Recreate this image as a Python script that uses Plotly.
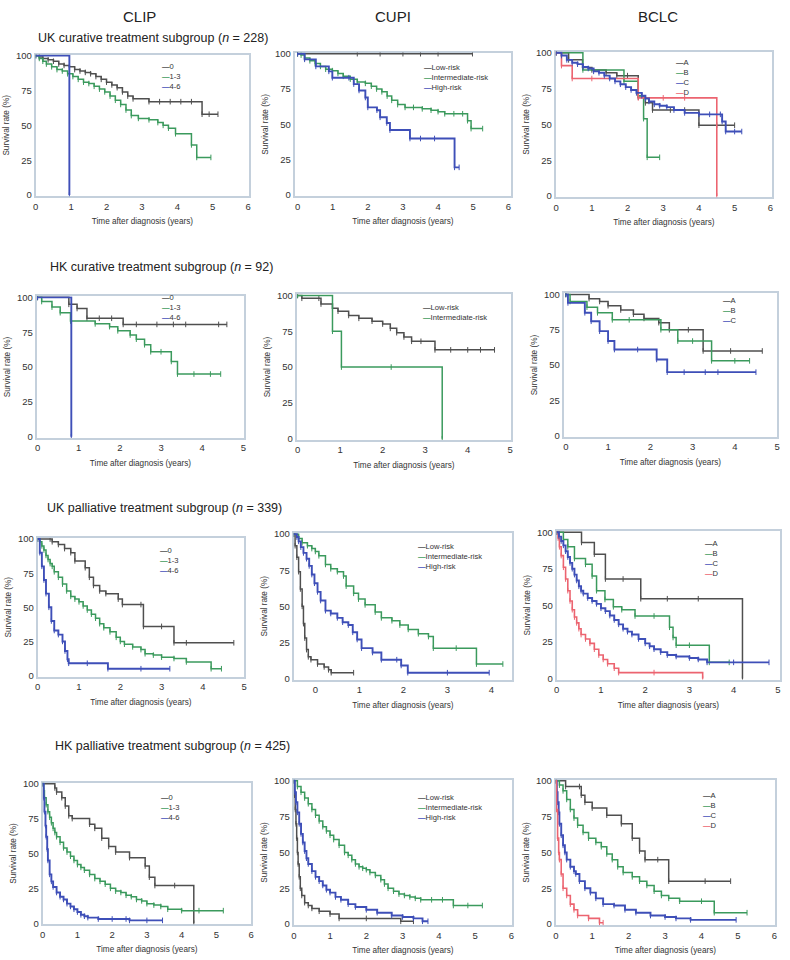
import plotly.graph_objects as go

W, H = 790, 960
FONT = "Liberation Sans, Arial, Helvetica, sans-serif"

# ---------------- text ----------------
col_titles = ["CLIP", "CUPI", "BCLC"]
row_titles = [
    "UK curative treatment subgroup (<i>n</i> = 228)",
    "HK curative treatment subgroup (<i>n</i> = 92)",
    "UK palliative treatment subgroup (<i>n</i> = 339)",
    "HK palliative treatment subgroup (<i>n</i> = 425)",
]
x_title = "Time after diagnosis (years)"
y_title = "Survival rate (%)"
y_ticks = [0, 25, 50, 75, 100]
x_ticks6 = [0, 1, 2, 3, 4, 5, 6]
x_ticks5 = [0, 1, 2, 3, 4, 5]
x_ticks4 = [0, 1, 2, 3, 4]
clip_labels = ["0", "1-3", "4-6"]
cupi_labels = ["Low-risk", "Intermediate-risk", "High-risk"]
bclc_labels = ["A", "B", "C", "D"]

# ---------------- data: (time in years, survival %) ----------------
# UK curative - CLIP
ukc_clip_0_t = [0, 0.1, 0.2, 0.35, 0.5, 0.65, 0.8, 0.95, 1.1, 1.25, 1.4, 1.55, 1.7, 1.85, 2.0, 2.15, 2.3, 2.45, 2.6, 2.75, 3.2, 3.5, 3.8, 4.1, 4.4, 4.7, 4.9, 5.15]
ukc_clip_0_s = [100, 99, 98, 97, 96, 94, 93, 92, 90, 89, 88, 87, 85, 83, 81, 79, 77, 74, 71, 69, 67, 67, 67, 67, 67, 58, 58, 58]
ukc_clip_13_t = [0, 0.1, 0.2, 0.3, 0.45, 0.6, 0.75, 0.9, 1.05, 1.2, 1.35, 1.5, 1.65, 1.8, 1.95, 2.1, 2.25, 2.4, 2.55, 2.7, 2.9, 3.2, 3.45, 3.6, 3.75, 3.95, 4.4, 4.55, 4.95]
ukc_clip_13_s = [100, 98, 96, 94, 92, 90, 89, 87, 85, 83, 81, 80, 78, 76, 74, 71, 68, 65, 61, 57, 55, 54, 52, 50, 48, 44, 36, 27, 27]
ukc_clip_46_t = [0, 0.95]
ukc_clip_46_s = [100, 0]
# UK curative - CUPI
ukc_cupi_low_t = [0, 1.7, 2.35, 3.0, 3.5, 4.0, 4.98]
ukc_cupi_low_s = [100, 100, 100, 100, 100, 100, 100]
ukc_cupi_int_t = [0, 0.1, 0.2, 0.35, 0.5, 0.65, 0.8, 0.99, 1.15, 1.3, 1.5, 1.7, 1.93, 2.1, 2.25, 2.4, 2.55, 2.68, 2.85, 3.06, 3.3, 3.55, 3.8, 4.0, 4.19, 4.45, 4.7, 4.84, 4.94, 5.27]
ukc_cupi_int_s = [100, 99, 97, 95, 93, 91, 89, 88, 86, 84, 82, 80, 79, 77, 75, 73, 70, 67, 64, 62, 62, 61, 60, 59, 57.5, 57.5, 57.5, 52.6, 47, 47]
ukc_cupi_high_t = [0, 0.2, 0.52, 0.89, 0.99, 1.46, 1.6, 1.75, 1.93, 2.0, 2.26, 2.35, 2.54, 2.63, 3.2, 3.5, 3.9, 4.47, 4.6]
ukc_cupi_high_s = [100, 96, 91, 87.5, 83, 83, 78.5, 74, 69, 62, 60, 55, 51, 46, 40, 40, 40, 19.6, 19.6]
# UK curative - BCLC
ukc_bclc_a_t = [0, 0.35, 0.74, 1.0, 1.4, 1.7, 2.0, 2.3, 2.5, 2.7, 3.2, 3.6, 4.0, 4.5, 5.0]
ukc_bclc_a_s = [100, 95, 89.6, 88, 86, 84, 84, 69, 65, 60, 60, 60, 49.4, 49.4, 49.4]
ukc_bclc_b_t = [0, 0.75, 1.9, 2.3, 2.45, 2.55, 2.9]
ukc_bclc_b_s = [100, 88, 80, 70, 54, 27, 27]
ukc_bclc_c_t = [0, 0.15, 0.3, 0.45, 0.6, 0.75, 0.9, 1.05, 1.2, 1.35, 1.5, 1.65, 1.8, 1.95, 2.1, 2.25, 2.4, 2.5, 2.6, 2.75, 2.9, 3.1, 3.3, 3.6, 4.0, 4.3, 4.6, 4.65, 4.75, 5.0, 5.2]
ukc_bclc_c_s = [100, 98, 95, 93, 92, 90, 89, 87, 86, 84, 82, 80, 78, 76, 74, 72, 70, 68, 66, 64, 63, 62, 60, 58, 57, 57, 57, 52, 45, 45, 45]
ukc_bclc_d_t = [0, 0.15, 0.45, 1.0, 2.3, 3.0, 3.6, 4.5]
ukc_bclc_d_s = [100, 91, 82, 82, 68.5, 68.5, 68.5, 0]
# HK curative - CLIP
hkc_clip_0_t = [0, 0.76, 0.96, 1.2, 1.5, 1.8, 2.08, 2.4, 2.9, 3.3, 3.6, 4.4, 4.6]
hkc_clip_0_s = [100, 95, 92, 85, 85, 85, 80.6, 80.6, 80.6, 80.6, 80.6, 80.6, 80.6]
hkc_clip_13_t = [0, 0.1, 0.35, 0.55, 0.8, 1.4, 1.75, 1.95, 2.25, 2.4, 2.6, 2.75, 3.0, 3.25, 3.4, 3.8, 4.2, 4.45]
hkc_clip_13_s = [100, 97, 93, 89, 83, 81, 79, 76, 73, 70, 66, 61, 61, 54, 45, 45, 45, 45]
hkc_clip_46_t = [0, 0.82]
hkc_clip_46_s = [100, 0]
# HK curative - CUPI
hkc_cupi_low_t = [0, 0.1, 0.5, 0.55, 0.82, 0.95, 1.2, 1.44, 1.75, 2.0, 2.18, 2.33, 2.5, 2.68, 2.9, 3.23, 3.6, 4.0, 4.3, 4.63]
hkc_cupi_low_s = [100, 98, 98, 94, 91, 89, 86, 84, 82, 80, 77, 74, 71, 68, 68, 62, 62, 62, 62, 62]
hkc_cupi_int_t = [0, 0.82, 1.03, 2.2, 3.4]
hkc_cupi_int_s = [100, 75, 50, 50, 0]
# HK curative - BCLC
hkc_bclc_a_t = [0, 0.55, 0.8, 1.0, 1.3, 1.6, 1.85, 2.2, 2.45, 2.9, 3.25, 3.9, 4.65]
hkc_bclc_a_s = [100, 97, 95, 92, 89, 86, 83, 80, 75, 75, 60, 60, 60]
hkc_bclc_b_t = [0, 0.1, 0.5, 0.75, 1.1, 1.5, 2.25, 2.65, 3.0, 3.45, 4.0, 4.35]
hkc_bclc_b_s = [100, 95, 91, 87, 82, 82, 75, 67, 67, 53, 53, 53]
hkc_bclc_c_t = [0, 0.05, 0.45, 0.6, 0.8, 1.0, 1.15, 1.7, 2.15, 2.4, 2.8, 3.3, 3.6, 4.5]
hkc_bclc_c_s = [100, 94, 87, 81, 74, 67, 61, 61, 54, 45, 45, 45, 45, 45]
# UK palliative - CLIP
ukp_clip_0_t = [0, 0.3, 0.35, 0.5, 0.65, 0.8, 0.9, 1.15, 1.25, 1.35, 1.5, 1.65, 1.95, 2.05, 2.5, 2.56, 3.0, 3.3, 3.6, 4.75]
ukp_clip_0_s = [100, 100, 98, 96, 93, 90, 84, 79, 72, 66, 62, 60, 56, 52, 52, 36, 36, 24, 24, 24]
ukp_clip_13_t = [0, 0.05, 0.1, 0.15, 0.2, 0.25, 0.3, 0.35, 0.4, 0.5, 0.6, 0.7, 0.8, 0.9, 1.0, 1.1, 1.2, 1.3, 1.4, 1.5, 1.6, 1.75, 1.9, 2.0, 2.1, 2.3, 2.5, 2.6, 2.8, 3.0, 3.3, 3.6, 4.2, 4.45]
ukp_clip_13_s = [100, 98, 95, 92, 88, 85, 82, 80, 76, 72, 67, 62, 58, 56, 54, 51, 48, 45, 42, 38, 35, 32, 28, 25, 23, 21, 19, 16, 15, 13.5, 12.5, 10, 5, 5]
ukp_clip_46_t = [0, 0.05, 0.1, 0.15, 0.2, 0.27, 0.33, 0.4, 0.5, 0.6, 0.66, 0.72, 0.75, 1.2, 1.7, 2.5, 3.2]
ukp_clip_46_s = [100, 90, 80, 70, 60, 50, 40, 33, 30, 25, 18, 12, 9, 9, 5, 5, 5]
# UK palliative - CUPI (times as read against the printed axis)
ukp_cupi_low_t = [-0.49, -0.46, -0.42, -0.38, -0.34, -0.30, -0.27, -0.24, -0.20, -0.16, -0.10, 0.05, 0.20, 0.30, 0.36, 0.87]
ukp_cupi_low_s = [100, 92, 84, 74, 62, 50, 38, 28, 20, 15, 13, 10, 8, 6, 4, 4]
ukp_cupi_int_t = [-0.49, -0.38, -0.3, -0.18, -0.08, 0.0, 0.08, 0.23, 0.35, 0.5, 0.64, 0.7, 0.87, 0.98, 1.13, 1.36, 1.5, 1.74, 1.92, 2.11, 2.34, 2.57, 2.68, 3.2, 3.66, 4.26]
ukp_cupi_int_s = [100, 97, 94, 92, 90, 88, 85, 79, 76, 74, 71, 64, 59, 55, 51, 46, 42, 40, 37, 34, 31, 29, 21, 21, 10, 10]
ukp_cupi_high_t = [-0.49, -0.42, -0.38, -0.33, -0.27, -0.2, -0.14, -0.08, -0.02, 0.05, 0.12, 0.23, 0.35, 0.5, 0.62, 0.75, 0.85, 0.95, 1.05, 1.3, 1.5, 1.85, 1.95, 2.1, 3.0, 3.95]
ukp_cupi_high_s = [100, 98, 95, 91, 87, 83, 78, 72, 66, 60, 54, 47, 45, 42, 39, 37, 32, 27, 21, 18, 13, 13, 9, 4, 4, 4]
# UK palliative - BCLC
ukp_bclc_a_t = [0, 0.56, 0.85, 1.1, 1.5, 1.9, 2.5, 3.2, 4.2]
ukp_bclc_a_s = [100, 93, 85, 68, 68, 54.5, 54.5, 54.5, 0]
ukp_bclc_b_t = [0, 0.15, 0.25, 0.4, 0.65, 0.8, 0.9, 1.09, 1.28, 1.47, 1.77, 2.2, 2.55, 2.63, 2.7, 3.0, 3.45, 3.9]
ukp_bclc_b_s = [100, 95, 90, 82, 78, 70, 60, 54, 49, 47, 42.7, 42.7, 35, 28, 22.7, 22.7, 11, 11]
ukp_bclc_c_t = [0, 0.05, 0.1, 0.15, 0.2, 0.25, 0.3, 0.35, 0.4, 0.45, 0.5, 0.55, 0.6, 0.7, 0.8, 0.9, 1.0, 1.1, 1.2, 1.3, 1.4, 1.5, 1.6, 1.7, 1.85, 2.0, 2.1, 2.2, 2.35, 2.5, 2.7, 3.0, 3.2, 3.4, 4.0, 4.8]
ukp_bclc_c_s = [100, 97, 94, 91, 87, 83, 79, 75, 71, 67, 63, 60, 58, 55, 53, 51, 48, 46, 43, 40, 37, 34, 32, 30, 27, 24, 22, 20, 18, 16, 15, 14, 13, 11, 11, 11]
ukp_bclc_d_t = [0, 0.03, 0.06, 0.1, 0.15, 0.2, 0.25, 0.3, 0.35, 0.4, 0.45, 0.5, 0.55, 0.65, 0.75, 0.85, 0.95, 1.05, 1.15, 1.3, 1.4, 2.2, 3.3]
ukp_bclc_d_s = [100, 96, 90, 84, 76, 68, 60, 53, 47, 42, 38, 34, 30, 27, 24, 20, 16, 13, 10, 7, 4, 4, 0]
# HK palliative - CLIP
hkp_clip_0_t = [0, 0.35, 0.4, 0.55, 0.65, 0.75, 0.85, 1.35, 1.5, 1.7, 1.9, 2.1, 2.5, 2.95, 3.07, 3.23, 3.8, 4.35]
hkp_clip_0_s = [100, 97, 94, 90, 84, 77, 75, 71, 68, 61, 55, 51, 47, 41, 33, 27, 27, 0]
hkp_clip_13_t = [0, 0.03, 0.05, 0.1, 0.15, 0.2, 0.25, 0.3, 0.35, 0.4, 0.5, 0.6, 0.7, 0.8, 0.9, 1.0, 1.1, 1.2, 1.35, 1.5, 1.65, 1.8, 1.95, 2.1, 2.25, 2.4, 2.55, 2.7, 2.85, 3.0, 3.2, 3.4, 3.6, 4.0, 4.5, 5.2]
hkp_clip_13_s = [100, 95, 90, 85, 80, 76, 72, 68, 65, 62, 58, 54, 51, 48, 45, 42, 40, 38, 35, 32, 30, 28, 25, 23, 22, 20, 19, 17, 16, 14, 13, 12, 10, 9, 9, 9]
hkp_clip_46_t = [0, 0.03, 0.05, 0.08, 0.1, 0.13, 0.15, 0.2, 0.25, 0.3, 0.4, 0.5, 0.6, 0.7, 0.8, 0.9, 1.0, 1.1, 1.2, 1.3, 1.6, 2.0, 2.4, 2.5, 3.0, 3.45]
hkp_clip_46_s = [100, 90, 80, 70, 62, 53, 45, 35, 30, 26, 22, 19, 17, 14, 12, 10, 8, 6, 5, 4, 3, 3, 3, 2, 2, 2]
# HK palliative - CUPI
hkp_cupi_low_t = [0, 0.02, 0.04, 0.06, 0.08, 0.1, 0.12, 0.15, 0.18, 0.22, 0.3, 0.4, 0.5, 0.7, 1.0, 1.25, 2.0, 2.95, 3.3]
hkp_cupi_low_s = [100, 90, 80, 70, 60, 50, 42, 33, 25, 20, 15, 13, 11, 9, 7, 4, 4, 2, 2]
hkp_cupi_int_t = [0, 0.1, 0.2, 0.3, 0.4, 0.5, 0.6, 0.7, 0.8, 0.9, 1.0, 1.1, 1.25, 1.4, 1.5, 1.6, 1.7, 1.8, 1.9, 2.0, 2.1, 2.25, 2.4, 2.5, 2.6, 2.75, 2.9, 3.05, 3.2, 3.35, 3.5, 3.8, 4.1, 4.4, 4.8, 5.2]
hkp_cupi_int_s = [100, 96, 92, 88, 84, 80, 76, 72, 68, 65, 62, 59, 55, 50, 48, 45, 42, 40, 39, 38, 36, 34, 31, 28, 25, 23, 21, 20, 19, 18, 17, 17, 17, 13, 13, 13]
hkp_cupi_high_t = [0, 0.03, 0.06, 0.1, 0.15, 0.2, 0.25, 0.3, 0.35, 0.4, 0.5, 0.6, 0.7, 0.8, 0.9, 1.0, 1.15, 1.3, 1.5, 1.7, 2.0, 2.3, 2.7, 3.0, 3.3, 3.55, 3.7]
hkp_cupi_high_s = [100, 92, 85, 78, 70, 63, 57, 51, 46, 42, 37, 33, 30, 27, 24, 22, 19, 17, 14, 12, 10, 8, 6, 5, 4, 2, 2]
# HK palliative - BCLC
hkp_bclc_a_t = [0, 0.27, 0.65, 0.7, 0.8, 1.0, 1.4, 1.8, 2.1, 2.3, 2.45, 2.8, 3.1, 4.1, 4.8]
hkp_bclc_a_s = [100, 96, 96, 90, 85, 81, 76, 70, 60, 51, 45, 45, 30, 30, 30]
hkp_bclc_b_t = [0, 0.1, 0.2, 0.3, 0.4, 0.5, 0.6, 0.75, 0.9, 1.1, 1.25, 1.4, 1.55, 1.7, 1.85, 2.1, 2.3, 2.5, 2.7, 2.9, 3.1, 3.4, 4.0, 4.35, 5.25]
hkp_bclc_b_s = [100, 97, 93, 87, 80, 74, 69, 64, 60, 57, 54, 49, 45, 40, 36, 33, 30, 27, 23, 20, 18, 16, 16, 8, 8]
hkp_bclc_c_t = [0, 0.03, 0.05, 0.08, 0.1, 0.15, 0.2, 0.25, 0.3, 0.4, 0.5, 0.55, 0.65, 0.8, 0.95, 1.1, 1.3, 1.6, 1.9, 2.2, 2.6, 3.0, 3.3, 3.7, 4.95]
hkp_bclc_c_s = [100, 92, 85, 78, 70, 62, 55, 50, 45, 40, 37, 35, 30, 25, 22, 18, 14, 13, 10, 8, 6, 5, 4, 3, 3]
hkp_bclc_d_t = [0, 0.02, 0.05, 0.08, 0.1, 0.15, 0.2, 0.3, 0.4, 0.5, 0.6, 0.9, 1.2, 1.3]
hkp_bclc_d_s = [100, 80, 60, 50, 45, 35, 25, 20, 14, 10, 6, 4, 1, 1]

# ---------------- styles ----------------
GRAY, GREEN, BLUE, RED = "#4f4f4f", "#3b9a5d", "#3e4fb8", "#ec6470"
MARK = {GRAY: "#111111", GREEN: "#1f7a42", BLUE: "#26358f", RED: "#d84a57"}
LW = {GRAY: 1.5, GREEN: 1.5, BLUE: 1.9, RED: 1.6}
BOX = "#c4d0dc"

panels = [
    [(ukc_clip_0_t, ukc_clip_0_s, GRAY), (ukc_clip_13_t, ukc_clip_13_s, GREEN), (ukc_clip_46_t, ukc_clip_46_s, BLUE)],
    [(ukc_cupi_low_t, ukc_cupi_low_s, GRAY), (ukc_cupi_int_t, ukc_cupi_int_s, GREEN), (ukc_cupi_high_t, ukc_cupi_high_s, BLUE)],
    [(ukc_bclc_a_t, ukc_bclc_a_s, GRAY), (ukc_bclc_b_t, ukc_bclc_b_s, GREEN), (ukc_bclc_d_t, ukc_bclc_d_s, RED), (ukc_bclc_c_t, ukc_bclc_c_s, BLUE)],
    [(hkc_clip_0_t, hkc_clip_0_s, GRAY), (hkc_clip_13_t, hkc_clip_13_s, GREEN), (hkc_clip_46_t, hkc_clip_46_s, BLUE)],
    [(hkc_cupi_low_t, hkc_cupi_low_s, GRAY), (hkc_cupi_int_t, hkc_cupi_int_s, GREEN)],
    [(hkc_bclc_a_t, hkc_bclc_a_s, GRAY), (hkc_bclc_b_t, hkc_bclc_b_s, GREEN), (hkc_bclc_c_t, hkc_bclc_c_s, BLUE)],
    [(ukp_clip_0_t, ukp_clip_0_s, GRAY), (ukp_clip_13_t, ukp_clip_13_s, GREEN), (ukp_clip_46_t, ukp_clip_46_s, BLUE)],
    [(ukp_cupi_low_t, ukp_cupi_low_s, GRAY), (ukp_cupi_int_t, ukp_cupi_int_s, GREEN), (ukp_cupi_high_t, ukp_cupi_high_s, BLUE)],
    [(ukp_bclc_a_t, ukp_bclc_a_s, GRAY), (ukp_bclc_b_t, ukp_bclc_b_s, GREEN), (ukp_bclc_d_t, ukp_bclc_d_s, RED), (ukp_bclc_c_t, ukp_bclc_c_s, BLUE)],
    [(hkp_clip_0_t, hkp_clip_0_s, GRAY), (hkp_clip_13_t, hkp_clip_13_s, GREEN), (hkp_clip_46_t, hkp_clip_46_s, BLUE)],
    [(hkp_cupi_low_t, hkp_cupi_low_s, GRAY), (hkp_cupi_int_t, hkp_cupi_int_s, GREEN), (hkp_cupi_high_t, hkp_cupi_high_s, BLUE)],
    [(hkp_bclc_a_t, hkp_bclc_a_s, GRAY), (hkp_bclc_b_t, hkp_bclc_b_s, GREEN), (hkp_bclc_c_t, hkp_bclc_c_s, BLUE), (hkp_bclc_d_t, hkp_bclc_d_s, RED)],
]

legends = [
    (clip_labels, [GRAY, GREEN, BLUE]),
    (cupi_labels, [GRAY, GREEN, BLUE]),
    (bclc_labels, [GRAY, GREEN, BLUE, RED]),
    (clip_labels, [GRAY, GREEN, BLUE]),
    (cupi_labels[:2], [GRAY, GREEN]),
    (bclc_labels[:3], [GRAY, GREEN, BLUE]),
    (clip_labels, [GRAY, GREEN, BLUE]),
    (cupi_labels, [GRAY, GREEN, BLUE]),
    (bclc_labels, [GRAY, GREEN, BLUE, RED]),
    (clip_labels, [GRAY, GREEN, BLUE]),
    (cupi_labels, [GRAY, GREEN, BLUE]),
    (bclc_labels, [GRAY, GREEN, BLUE, RED]),
]

# ---------------- layout geometry (pixels) ----------------
geom = [
    (33, 248, 50, 193, [0, 6.03], x_ticks6),
    (294, 512, 48, 193, [-0.08, 6.08], x_ticks6),
    (557, 775, 47, 194, [-0.01, 6.05], x_ticks6),
    (34, 243, 294, 437, [-0.02, 5.02], x_ticks5),
    (296, 512, 292, 439, [-0.02, 5.02], x_ticks5),
    (565, 780, 291, 436, [-0.05, 5.0], x_ticks5),
    (35, 243, 538, 678, [0, 5.0], x_ticks5),
    (293, 513, 533, 681, [-0.49, 4.47], x_ticks4),
    (558, 783, 531, 681, [0, 5.05], x_ticks5),
    (40, 250, 785, 928, [0, 6.0], x_ticks6),
    (293, 513, 782, 929, [0, 6.02], x_ticks6),
    (557, 778, 782, 929, [0, 6.02], x_ticks6),
]
# legend: left x, top y (pixels)
legend_pos = [
    (159, 57), (423, 58), (677, 52),
    (159, 290), (422, 300), (724, 293),
    (157, 545), (417, 541), (706, 538),
    (158, 794), (417, 794), (704, 792),
]

fig = go.Figure()
annotations = []
for i, (curves, g, leg, lp) in enumerate(zip(panels, geom, legends, legend_pos), start=1):
    sfx = "" if i == 1 else str(i)
    for t, s, c in curves:
        fig.add_trace(go.Scatter(
            x=t, y=s, xaxis="x" + sfx, yaxis="y" + sfx,
            mode="lines+markers",
            line=dict(shape="hv", color=c, width=LW[c]),
            marker=dict(symbol="line-ns-open", size=4, line=dict(width=1, color=MARK[c])),
            showlegend=False, hoverinfo="skip"))
    L, R, T, B, xr, xt = g
    fig.update_layout(**{
        "xaxis" + sfx: dict(
            domain=[L / W, R / W], range=xr, anchor="y" + sfx,
            tickvals=xt, ticktext=[str(v) for v in xt],
            showline=True, mirror=True, linecolor=BOX, linewidth=2, layer="below traces",
            showgrid=False, zeroline=False, ticks="",
            tickfont=dict(size=9.5, color="#333", family=FONT),
            title=dict(text=x_title, font=dict(size=8.2, color="#333", family=FONT), standoff=8)),
        "yaxis" + sfx: dict(
            domain=[1 - B / H, 1 - T / H], range=[-0.8, 100.8], anchor="x" + sfx,
            tickvals=y_ticks, ticktext=[str(v) for v in y_ticks],
            showline=True, mirror=True, linecolor=BOX, linewidth=2, layer="below traces",
            showgrid=False, zeroline=False, ticks="",
            tickfont=dict(size=9.5, color="#333", family=FONT),
            title=dict(text=y_title, font=dict(size=8.2, color="#333", family=FONT), standoff=5)),
    })
    labels, cols = leg
    lx, ly = lp
    lines = [f'<span style="color:{c}"><b>\u2014</b></span>{lab}' for lab, c in zip(labels, cols)]
    annotations.append(dict(
        x=lx / W, y=1 - ly / H, xref="paper", yref="paper", xanchor="left", yanchor="top",
        text="<br>".join(lines), showarrow=False, align="left", borderpad=0,
        font=dict(size=7.6, color="#333", family=FONT)))

for txt, cx in zip(col_titles, [138, 393, 660]):
    annotations.append(dict(x=cx / W, y=1 - 12 / H, xref="paper", yref="paper", xanchor="center",
                            yanchor="middle", text=txt, showarrow=False,
                            font=dict(size=15, color="#222", family=FONT)))
for txt, (rx, ry) in zip(row_titles, [(33, 33), (45, 264), (42, 508), (50, 748)]):
    annotations.append(dict(x=rx / W, y=1 - ry / H, xref="paper", yref="paper", xanchor="left",
                            yanchor="middle", text=txt, showarrow=False,
                            font=dict(size=12.5, color="#222", family=FONT)))

fig.update_layout(
    width=W, height=H, margin=dict(l=0, r=0, t=0, b=0),
    paper_bgcolor="white", plot_bgcolor="white",
    font=dict(family=FONT, color="#333"),
    annotations=annotations, showlegend=False)

fig.write_html("out.html")
